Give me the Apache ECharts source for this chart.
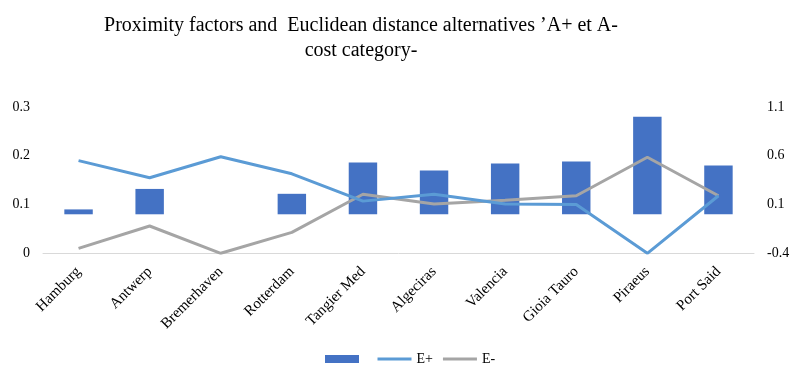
<!DOCTYPE html>
<html>
<head>
<meta charset="utf-8">
<script src="https://cdn.jsdelivr.net/npm/echarts@6/dist/echarts.min.js"></script>
<style>html,body{margin:0;padding:0;background:#fff}#c{width:798px;height:376px}</style>
</head>
<body>
<div id="c"></div>
<script>
const categories = ['Hamburg','Antwerp','Bremerhaven','Rotterdam','Tangier Med','Algeciras','Valencia','Gioia Tauro','Piraeus','Port Said'];
const proximity = [0.05, 0.26, 0, 0.21, 0.53, 0.45, 0.52, 0.54, 1.0, 0.50];
const ePlus = [0.19, 0.155, 0.198, 0.163, 0.107, 0.121, 0.101, 0.10, 0, 0.118];
const eMinus = [0.01, 0.056, 0, 0.043, 0.121, 0.101, 0.109, 0.118, 0.197, 0.118];
const leftTicks = [0, 0.1, 0.2, 0.3];
const rightTicks = [-0.4, 0.1, 0.6, 1.1];

const font = 'Liberation Serif';
const lineIcon = 'path://M0,0 H34 V3 H0 Z';
const chart = echarts.init(document.getElementById('c'));
chart.setOption({
  animation: false,
  textStyle: { fontFamily: font },
  title: {
    text: 'Proximity factors and  Euclidean distance alternatives \u2019A+ et A-\ncost category-',
    left: 356, top: 8, textAlign: 'center',
    textStyle: { fontFamily: font, fontSize: 20, fontWeight: 'normal', color: '#000', lineHeight: 25 }
  },
  legend: {
    data: [{ name: ' ', icon: 'rect' }, { name: 'E+', icon: lineIcon }, { name: 'E-', icon: lineIcon }],
    left: 320, top: 347,
    itemWidth: 34, itemHeight: 8, itemGap: 10,
    textStyle: { fontFamily: font, fontSize: 14, color: '#000' }
  },
  grid: { left: 43, right: 44, top: 107, bottom: 122.7 },
  xAxis: {
    type: 'category', data: categories,
    axisLine: { lineStyle: { color: '#d9d9d9', width: 1 } },
    axisTick: { show: false },
    axisLabel: { rotate: 45, fontSize: 15, color: '#000', fontFamily: font, margin: 16, interval: 0 }
  },
  yAxis: [
    {
      type: 'value', min: 0, max: 0.3,
      axisLine: { show: false }, axisTick: { show: false }, splitLine: { show: false },
      axisLabel: { customValues: leftTicks, fontSize: 14, color: '#000', fontFamily: font, margin: 13 }
    },
    {
      type: 'value', min: -0.4, max: 1.1,
      axisLine: { show: false }, axisTick: { show: false }, splitLine: { show: false },
      axisLabel: { customValues: rightTicks, fontSize: 14, color: '#000', fontFamily: font, margin: 13,
        formatter: v => (Math.round(v * 10) / 10).toString() }
    }
  ],
  series: [
    { name: ' ', type: 'bar', yAxisIndex: 1, data: proximity, barWidth: '40%',
      itemStyle: { color: '#4472C4' }, z: 1 },
    { name: 'E+', type: 'line', yAxisIndex: 0, data: ePlus, symbol: 'none',
      lineStyle: { color: '#5B9BD5', width: 3 }, itemStyle: { color: '#5B9BD5' }, z: 3 },
    { name: 'E-', type: 'line', yAxisIndex: 0, data: eMinus, symbol: 'none',
      lineStyle: { color: '#A5A5A5', width: 3 }, itemStyle: { color: '#A5A5A5' }, z: 2 }
  ]
});
</script>
</body>
</html>
